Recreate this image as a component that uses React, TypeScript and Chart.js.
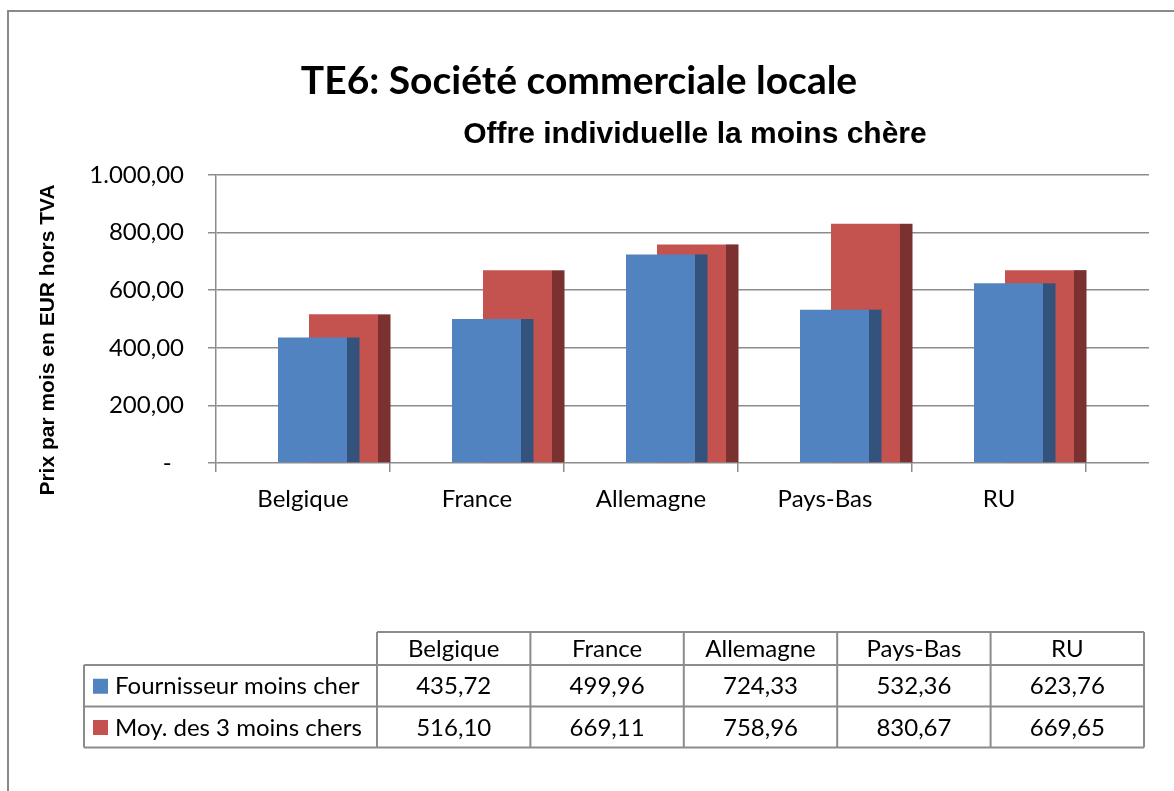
import React, { useEffect, useRef } from 'react';
import { Chart, registerables } from 'chart.js';

Chart.register(...registerables);

// ---- data ----
const categories = ['Belgique', 'France', 'Allemagne', 'Pays-Bas', 'RU'];
const seriesNames = ['Fournisseur moins cher', 'Moy. des 3 moins chers'];
const cheapest = [435.72, 499.96, 724.33, 532.36, 623.76];
const avgOfThree = [516.1, 669.11, 758.96, 830.67, 669.65];
const yTickValues = [0, 200, 400, 600, 800, 1000];
const chartTitle = 'TE6: Société commerciale locale';
const chartSubtitle = 'Offre individuelle la moins chère';
const yAxisTitle = 'Prix par mois en EUR hors TVA';

// ---- style ----
const BLUE = '#5083C0';
const BLUE_SIDE = '#33537C';
const RED = '#C4524F';
const RED_SIDE = '#7A3130';
const GRID = '#8C8C8C';
const LABEL_FONT = 'Lato';
const LABEL_SIZE = 24;
const DEPTH = 12.5;

const fmt = (v: number) => {
  const [i, d] = v.toFixed(2).split('.');
  return i.replace(/\B(?=(\d{3})+(?!\d))/g, '.') + ',' + d;
};

const side3d = {
  id: 'side3d',
  afterDatasetDraw(chart: any, args: any) {
    const ds: any = chart.data.datasets[args.index];
    const ctx = chart.ctx;
    ctx.save();
    ctx.fillStyle = ds.sideColor;
    args.meta.data.forEach((el: any) => {
      const { x, y, base, width } = el.getProps(['x', 'y', 'base', 'width'], true);
      ctx.fillRect(x + width / 2, y, DEPTH, base - y);
    });
    ctx.restore();
  },
};

const frame = {
  id: 'frame',
  beforeDraw(chart: any) {
    const ctx = chart.ctx;
    ctx.save();
    ctx.fillStyle = '#fff';
    ctx.fillRect(0, 0, chart.width, chart.height);
    ctx.strokeStyle = '#8a8a8a';
    ctx.lineWidth = 2;
    ctx.beginPath();
    ctx.moveTo(8, chart.height + 5);
    ctx.lineTo(8, 11);
    ctx.lineTo(chart.width + 5, 11);
    ctx.stroke();
    ctx.restore();
  },
};

const texts = {
  id: 'texts',
  afterDraw(chart: any) {
    const ctx = chart.ctx;
    ctx.save();
    ctx.fillStyle = '#000';
    ctx.textAlign = 'center';
    ctx.textBaseline = 'alphabetic';
    ctx.font = `bold 39px ${LABEL_FONT}`;
    ctx.fillText(chartTitle, 579, 94);
    ctx.font = 'bold 30px "Liberation Sans"';
    ctx.fillText(chartSubtitle, 695, 143);

    // y axis title
    ctx.save();
    ctx.translate(48, 340);
    ctx.rotate(-Math.PI / 2);
    ctx.font = 'bold 21px "Liberation Sans"';
    ctx.textBaseline = 'middle';
    ctx.fillText(yAxisTitle, 0, 0);
    ctx.restore();

    // data table
    const left = 84;
    const colStart = 377;
    const colW = 153.4;
    const right = colStart + colW * categories.length;
    const rows = [632, 665, 706.5, 747.5];
    ctx.strokeStyle = GRID;
    ctx.lineWidth = 2;
    ctx.beginPath();
    ctx.moveTo(colStart, rows[0]);
    ctx.lineTo(right, rows[0]);
    for (let r = 1; r < rows.length; r++) {
      ctx.moveTo(left, rows[r]);
      ctx.lineTo(right, rows[r]);
    }
    ctx.moveTo(left, rows[1]);
    ctx.lineTo(left, rows[3]);
    for (let c = 0; c <= categories.length; c++) {
      const x = colStart + c * colW;
      ctx.moveTo(x, rows[0]);
      ctx.lineTo(x, rows[3]);
    }
    ctx.stroke();

    ctx.font = `${LABEL_SIZE}px ${LABEL_FONT}`;
    ctx.textBaseline = 'middle';
    ctx.fillStyle = '#000';
    categories.forEach((c, i) => {
      ctx.fillText(c, colStart + colW * (i + 0.5), (rows[0] + rows[1]) / 2 + 1);
    });
    const seriesData = [cheapest, avgOfThree];
    const colors = [BLUE, RED];
    seriesData.forEach((vals, r) => {
      const cy = (rows[r + 1] + rows[r + 2]) / 2 + 1;
      vals.forEach((v, i) => {
        ctx.fillStyle = '#000';
        ctx.textAlign = 'center';
        ctx.fillText(fmt(v), colStart + colW * (i + 0.5), cy);
      });
      ctx.fillStyle = colors[r];
      ctx.fillRect(93, cy - 8, 15, 15);
      ctx.fillStyle = '#000';
      ctx.textAlign = 'left';
      ctx.fillText(seriesNames[r], 115, cy);
    });
    ctx.restore();
  },
};

export default function App() {
  const ref = useRef<HTMLCanvasElement | null>(null);

  useEffect(() => {
    if (!ref.current) return;
    const shift = 25 / 174;
    const extra = 63 / 174;
    const chart = new Chart(ref.current, {
      type: 'bar',
      data: {
        datasets: [
          {
            label: seriesNames[0],
            data: categories.map((_, i) => ({ x: i, y: cheapest[i] })),
            backgroundColor: BLUE,
            xAxisID: 'xb',
            categoryPercentage: 0.3563,
            barPercentage: 2.226,
            sideColor: BLUE_SIDE,
          } as any,
          {
            label: seriesNames[1],
            data: categories.map((_, i) => ({ x: i, y: avgOfThree[i] })),
            backgroundColor: RED,
            xAxisID: 'xb',
            categoryPercentage: 0.3563,
            barPercentage: 2.226,
            sideColor: RED_SIDE,
          } as any,
        ],
      },
      options: {
        responsive: false,
        animation: false,
        devicePixelRatio: 1,
        layout: { padding: { left: 20, right: 25, top: 175, bottom: 268 } },
        plugins: { legend: { display: false }, tooltip: { enabled: false }, title: { display: false } },
        scales: {
          x: {
            type: 'linear',
            offset: false,
            min: -0.5,
            max: 4.5 + extra,
            afterBuildTicks: (s: any) => {
              s.ticks = categories.map((_, i) => ({ value: i }));
            },
            afterFit: (s: any) => {
              s.height = 60;
            },
            ticks: {
              callback: (_v: any, i: number) => categories[i],
              font: { family: LABEL_FONT, size: LABEL_SIZE },
              color: '#000',
              padding: 13,
              maxRotation: 0,
              autoSkip: false,
            },
            grid: { offset: true, drawOnChartArea: false, tickLength: 9, color: GRID, lineWidth: 1.5 },
            border: { display: false },
          },
          xb: {
            type: 'linear',
            display: false,
            offset: false,
            min: -0.5 - shift,
            max: 4.5 + extra - shift,
            grid: { display: false },
          },
          y: {
            min: 0,
            max: 1000,
            afterBuildTicks: (s: any) => {
              s.ticks = yTickValues.map((v) => ({ value: v }));
            },
            afterFit: (s: any) => {
              s.width = 196;
            },
            ticks: {
              callback: (v: any) => (v === 0 ? '-  ' : fmt(Number(v))),
              font: { family: LABEL_FONT, size: LABEL_SIZE },
              color: '#000',
              padding: 24,
            },
            grid: { color: GRID, lineWidth: 1.5, tickLength: 8 },
            border: { color: GRID, width: 1.5 },
          },
        },
      } as any,
      plugins: [frame, side3d, texts],
    });
    return () => chart.destroy();
  }, []);

  return (
    <div style={{ position: 'absolute', left: 0, top: 0, width: 1174, height: 791, overflow: 'hidden' }}>
      <canvas ref={ref} width={1174} height={791} style={{ display: 'block' }} />
    </div>
  );
}
